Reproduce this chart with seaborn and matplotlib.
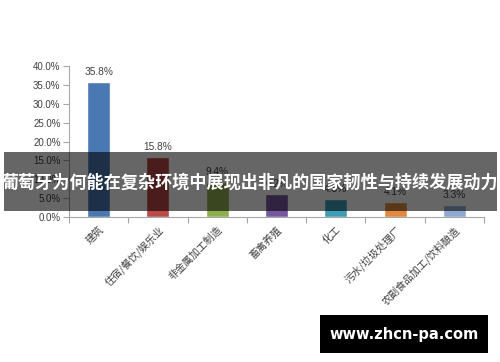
import matplotlib
matplotlib.use("Agg")
import matplotlib.pyplot as plt
import seaborn as sns
import pandas as pd
from matplotlib.patches import Rectangle
from matplotlib.ticker import FixedLocator, FuncFormatter

categories = ["建筑", "住宿/餐饮/娱乐业", "非金属加工制造", "畜禽养殖", "化工", "污水/垃圾处理厂", "农副食品加工/饮料酿造"]
values = [35.8, 15.8, 9.4, 6.2, 4.8, 4.1, 3.3]
colors = ["#4A78B3", "#B94A48", "#8FAF4F", "#7658A0", "#3E9DB5", "#E38A42", "#8FAAD2"]
y_ticks = [0, 5, 10, 15, 20, 25, 30, 35, 40]
banner_title = "葡萄牙为何能在复杂环境中展现出非凡的国家韧性与持续发展动力"
watermark = "www.zhcn-pa.com"

sns.set_theme(style="white")
plt.rcParams['font.family'] = ['Noto Sans CJK SC', 'DejaVu Sans']

df = pd.DataFrame({"cat": categories, "val": values})

fig = plt.figure(figsize=(5, 3.62), dpi=100)
ax = fig.add_axes([0.138, 0.3997, 0.830, 0.4188])
sns.barplot(data=df, x="cat", y="val", hue="cat", palette=colors, width=0.39,
            legend=False, ax=ax, saturation=1)

ax.set_ylim(0, 40)
ax.set_xlim(-0.5, len(categories) - 0.5)
ax.yaxis.set_major_locator(FixedLocator(y_ticks))
ax.yaxis.set_major_formatter(FuncFormatter(lambda v, p: f"{v:.1f}%"))
ax.set_xlabel("")
ax.set_ylabel("")

for s in ["top", "right"]:
    ax.spines[s].set_visible(False)
for s in ["left", "bottom"]:
    ax.spines[s].set_color("#A6A6A6")
    ax.spines[s].set_linewidth(0.8)

ax.tick_params(axis="y", which="major", left=True, length=4, width=0.8, color="#A6A6A6",
               labelsize=7, labelcolor="#404040", pad=2)
for lbl in ax.get_yticklabels():
    lbl.set_family(["Liberation Sans", "DejaVu Sans"])

ax.set_xticks(range(len(categories)))
ax.set_xticklabels(categories, rotation=45, ha="right", rotation_mode="anchor",
                   fontsize=7.3, color="#404040")
ax.tick_params(axis="x", which="major", bottom=False, length=0, pad=5)
ax.set_xticks([i - 0.5 for i in range(len(categories) + 1)], minor=True)
ax.tick_params(axis="x", which="minor", bottom=True, length=4, width=0.8, color="#A6A6A6")

for i, v in enumerate(values):
    ax.text(i, v + 1.3, f"{v:.1f}%", ha="center", va="bottom", fontsize=7.3,
            color="#404040", family=["Liberation Sans", "DejaVu Sans"])

# overlay banner
fig.patches.append(Rectangle((4 / 500, 1 - 211 / 362), 493 / 500, 59 / 362,
                             transform=fig.transFigure, facecolor="black", alpha=0.6,
                             edgecolor="none", zorder=10))
fig.text(0.5, 1 - 183 / 362, banner_title, ha="center", va="center", color="white",
         fontsize=12.3, fontweight="bold", zorder=11)

# watermark
fig.patches.append(Rectangle((320 / 500, 1 - 353 / 362), 168 / 500, 38 / 362,
                             transform=fig.transFigure, facecolor="black",
                             edgecolor="none", zorder=10))
fig.text(404 / 500, 1 - 334 / 362, watermark, ha="center", va="center", color="white",
         fontsize=10.5, fontweight="bold", family=["DejaVu Sans"], zorder=11)

fig.savefig("out.png", dpi=100)
